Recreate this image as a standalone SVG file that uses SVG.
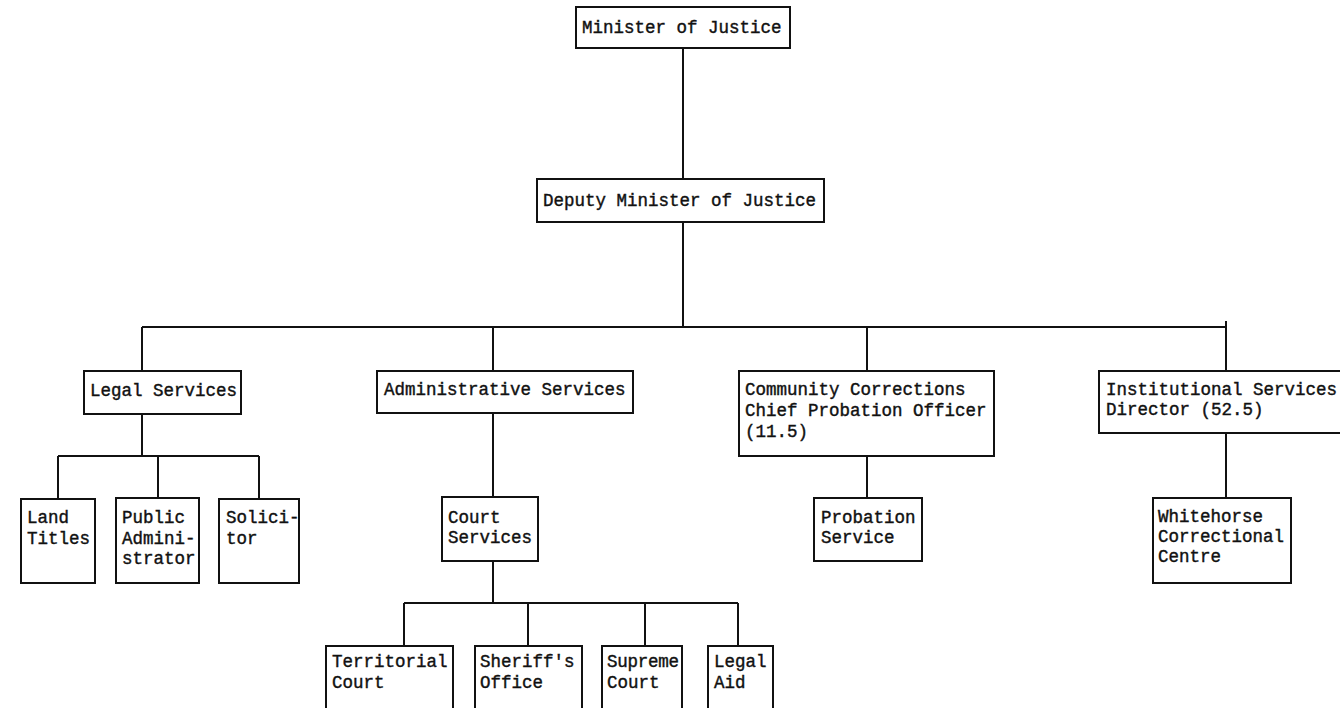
<svg xmlns="http://www.w3.org/2000/svg" width="1340" height="708" viewBox="0 0 1340 708">
<style>
.box{fill:#fff;stroke:#111;stroke-width:2}
.t{font-family:"Liberation Mono","DejaVu Sans Mono",monospace;font-size:17.5px;fill:#111;stroke:#111;stroke-width:0.4}
.c{fill:none;stroke:#111;stroke-width:2}
</style>
<rect width="1340" height="708" fill="#fff"/>
<g id="connectors">
<path class="c" d="M683 48V179M683 222V327M142 327H1226M1226 321V371M142 327V371M493 327V371M867 327V371"/>
<path class="c" d="M142 414V456M58 456H259M58 456V499M158 456V498M259 456V499"/>
<path class="c" d="M493 413V497M493 561V603M404 603H738M404 603V646M528 603V646M645 603V646M738 603V646"/>
<path class="c" d="M867 456V498M1226 433V498"/>
</g>
<g id="minister"><rect class="box" x="576" y="7" width="214" height="41"/><text class="t" x="582" y="33">Minister of Justice</text></g>
<g id="deputy"><rect class="box" x="537" y="179" width="287" height="43"/><text class="t" x="543" y="206">Deputy Minister of Justice</text></g>
<g id="legal"><rect class="box" x="84" y="371" width="157" height="43"/><text class="t" x="90" y="396">Legal Services</text></g>
<g id="admin"><rect class="box" x="377" y="371" width="256" height="42"/><text class="t" x="384" y="395">Administrative Services</text></g>
<g id="community"><rect class="box" x="739" y="371" width="255" height="85"/><text class="t" x="745" y="395">Community Corrections</text><text class="t" x="745" y="416">Chief Probation Officer</text><text class="t" x="745" y="437">(11.5)</text></g>
<g id="institutional"><rect class="box" x="1099" y="371" width="250" height="62"/><text class="t" x="1106" y="395">Institutional Services</text><text class="t" x="1106" y="415">Director (52.5)</text></g>
<g id="land"><rect class="box" x="21" y="499" width="74" height="84"/><text class="t" x="27" y="523">Land</text><text class="t" x="27" y="544">Titles</text></g>
<g id="public"><rect class="box" x="116" y="498" width="83" height="85"/><text class="t" x="122" y="523">Public</text><text class="t" x="122" y="544">Admini-</text><text class="t" x="122" y="564">strator</text></g>
<g id="solicitor"><rect class="box" x="219" y="499" width="80" height="84"/><text class="t" x="226" y="523">Solici-</text><text class="t" x="226" y="544">tor</text></g>
<g id="court"><rect class="box" x="442" y="497" width="96" height="64"/><text class="t" x="448" y="523">Court</text><text class="t" x="448" y="543">Services</text></g>
<g id="probation"><rect class="box" x="814" y="498" width="108" height="63"/><text class="t" x="821" y="523">Probation</text><text class="t" x="821" y="543">Service</text></g>
<g id="whitehorse"><rect class="box" x="1153" y="498" width="138" height="85"/><text class="t" x="1158" y="522">Whitehorse</text><text class="t" x="1158" y="542">Correctional</text><text class="t" x="1158" y="562">Centre</text></g>
<g id="territorial"><rect class="box" x="326" y="646" width="127" height="80"/><text class="t" x="332" y="667">Territorial</text><text class="t" x="332" y="688">Court</text></g>
<g id="sheriff"><rect class="box" x="475" y="646" width="107" height="80"/><text class="t" x="480" y="667">Sheriff's</text><text class="t" x="480" y="688">Office</text></g>
<g id="supreme"><rect class="box" x="602" y="646" width="80" height="80"/><text class="t" x="607" y="667" textLength="72">Supreme</text><text class="t" x="607" y="688">Court</text></g>
<g id="legalaid"><rect class="box" x="708" y="646" width="65" height="80"/><text class="t" x="714" y="667">Legal</text><text class="t" x="714" y="688">Aid</text></g>
</svg>
